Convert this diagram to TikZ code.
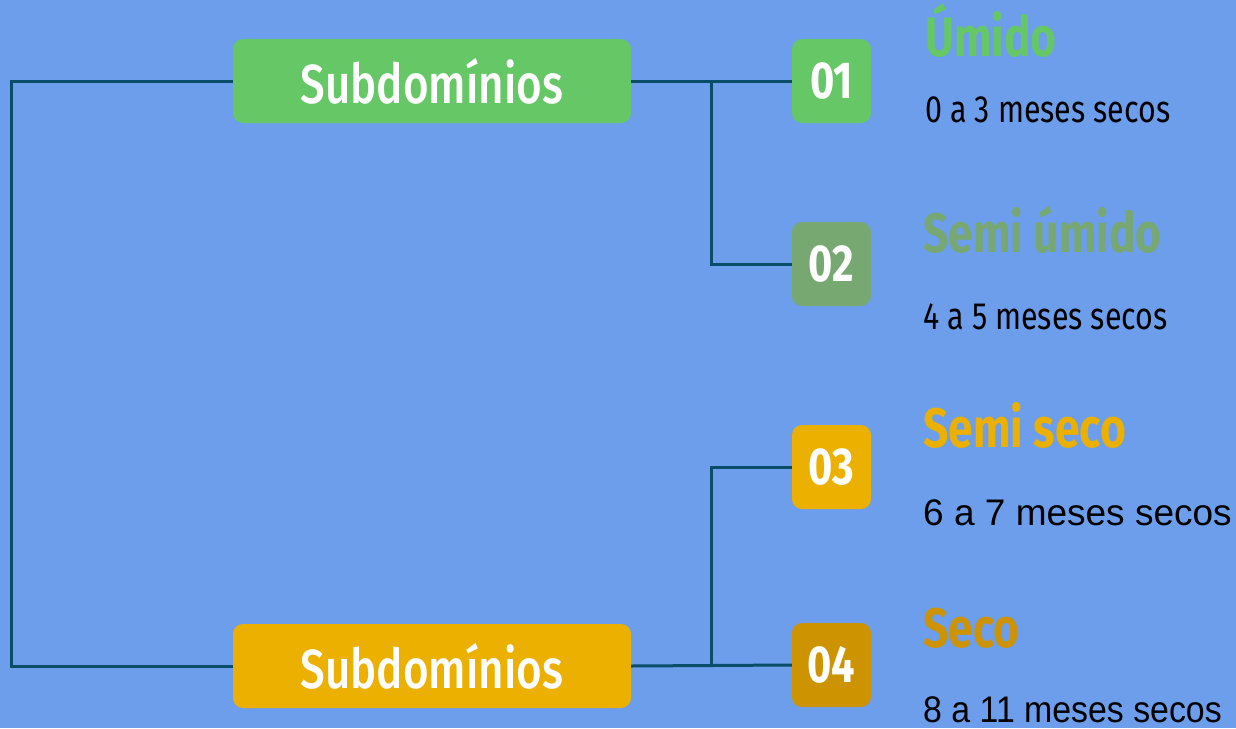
\documentclass[tikz,border=0pt]{standalone}
\usepackage{fontspec}
\usepackage{graphicx}
\setmainfont{Fira Sans}[FakeStretch=0.8]
\newfontfamily\firamed{Fira Sans Medium}[FakeStretch=0.8]
\newfontfamily\robo{Liberation Sans}
\definecolor{bg}{HTML}{6C9EEB}
\definecolor{gA}{HTML}{66C766}
\definecolor{gB}{HTML}{78A872}
\definecolor{yA}{HTML}{EBB000}
\definecolor{yB}{HTML}{CE9300}
\definecolor{ln}{HTML}{0A4D68}
\tikzset{
  subbox/.style={rounded corners=10pt, minimum width=398pt, minimum height=84pt, inner sep=0pt, text=white, font=\firamed\fontsize{55}{55}\selectfont},
  numbox/.style={rounded corners=10pt, minimum width=79pt, minimum height=84pt, inner sep=0pt, text=white, font=\bfseries\fontsize{52}{52}\selectfont},
  ttl/.style={anchor=base west, inner sep=0pt, font=\bfseries\fontsize{55.5}{55.5}\selectfont},
  desc/.style={anchor=base west, inner sep=0pt, font=\fontsize{38}{38}\selectfont},
  rdesc/.style={anchor=base west, inner sep=0pt, font=\robo\fontsize{37}{37}\selectfont},
  conn/.style={draw=ln, line width=3pt},
}
\begin{document}
\begin{tikzpicture}[x=1pt,y=-1pt]
\fill[bg] (0,0) rectangle (1236,728);
\useasboundingbox (0,0) rectangle (1236,728);
\node[subbox, fill=gA] (s1) at (432,81) {Subdomínios};
\node[subbox, fill=yA] (s2) at (432,666) {Subdomínios};
\node[numbox, fill=gA] (n1) at (831.5,81) {01};
\node[numbox, fill=gB] (n2) at (831.5,264) {02};
\node[numbox, fill=yA] (n3) at (831.5,467) {03};
\node[numbox, fill=yB] (n4) at (831.5,665) {04};
\coordinate (L1) at (11,81);
\coordinate (L2) at (11,666);
\coordinate (j1) at (711,81);
\coordinate (j2) at (711,665);
\draw[conn] (s1.west) -- (L1) -- (L2) -- (s2.west);
\draw[conn] (s1.east) -- (n1.west);
\draw[conn] (j1) -- (j1 |- n2.west) -- (n2.west);
\draw[conn] (s2.east) -- (n4.west);
\draw[conn] (j2) -- (j2 |- n3.west) -- (n3.west);
\node[ttl, text=gA] (t1) at (925,56) {Úmido};
\node[desc] (d1) at (925,122) {0 a 3 meses secos};
\node[ttl, text=gB] (t2) at (923,252) {Semi úmido};
\node[desc] (d2) at (923,329) {4 a 5 meses secos};
\node[ttl, text=yA] (t3) at (923,447) {Semi seco};
\node[rdesc] (d3) at (923,525) {6 a 7 meses secos};
\node[ttl, text=yB] (t4) at (923,647) {Seco};
\node[rdesc] (d4) at (923,722.5) {\scalebox{0.915}[1]{8 a 11 meses secos}};
\end{tikzpicture}
\end{document}
